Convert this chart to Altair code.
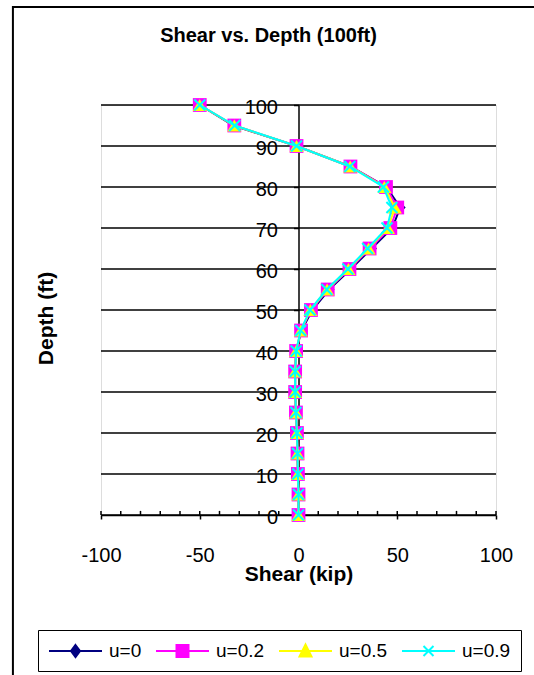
import altair as alt
import pandas as pd

# ---------------- data ----------------
depth = [0, 5, 10, 15, 20, 25, 30, 35, 40, 45, 50, 55, 60, 65, 70, 75, 80, 85, 90, 95, 100]
series_names = ["u=0", "u=0.2", "u=0.5", "u=0.9"]
shear_u0 = [0, 0, -0.3, -0.5, -0.8, -1.3, -1.7, -1.7, -1.2, 1.5, 7.0, 15.5, 26.5, 37.0, 47.5, 51.5, 44.5, 26.3, -1.0, -33.0, -50.0]
shear_u02 = [0, 0, -0.3, -0.5, -0.8, -1.3, -1.7, -1.7, -1.2, 1.3, 6.3, 14.8, 25.8, 36.0, 46.5, 50.0, 44.3, 26.3, -1.0, -32.5, -50.0]
shear_u05 = [0, 0, -0.3, -0.5, -0.8, -1.3, -1.7, -1.7, -1.2, 1.2, 6.0, 14.5, 25.3, 35.5, 45.3, 48.8, 43.5, 26.2, -1.0, -32.5, -50.0]
shear_u09 = [0, 0, -0.3, -0.5, -0.8, -1.3, -1.7, -1.7, -1.2, 1.1, 5.8, 14.3, 25.0, 35.0, 44.8, 47.3, 43.0, 26.0, -1.0, -32.3, -50.0]
x_major_ticks = [-100, -50, 0, 50, 100]
x_minor_ticks = [-100, -90, -80, -70, -60, -50, -40, -30, -20, -10, 0, 10, 20, 30, 40, 50, 60, 70, 80, 90, 100]
y_ticks = [0, 10, 20, 30, 40, 50, 60, 70, 80, 90, 100]
# chart-area border in data units (left/top edges; right/bottom fall off-canvas)
frame_x = [-144.6, 200.0]
frame_y = [123.9, -40.0]

colors = ["#000080", "#FF00FF", "#FFFF00", "#00FFFF"]

rows = []
for name, vals in zip(series_names, [shear_u0, shear_u02, shear_u05, shear_u09]):
    for d, v in zip(depth, vals):
        rows.append({"series": name, "depth": d, "shear": v})
df = pd.DataFrame(rows)

FONT = "Liberation Sans"
W, H = 395, 410

xscale = alt.Scale(domain=[-100, 100], nice=False, zero=False)
yscale = alt.Scale(domain=[0, 100], nice=False, zero=False)
# data-driven domain (sorted: u=0, u=0.2, u=0.5, u=0.9)
color_scale = alt.Scale(range=colors)

x_axis = alt.Axis(
    values=x_major_ticks, grid=False, domainColor="black", domainWidth=1.5,
    tickColor="black", tickSize=4, tickWidth=1.5,
    labelFont=FONT, labelFontSize=20, labelColor="black", labelPadding=36,
    labelBaseline="middle", labelFlush=False, labelOverlap=False,
    labelExpr="'' + datum.value",
    titleFont=FONT, titleFontSize=21, titleFontWeight="bold", titleColor="black",
    titleY=65, titleBaseline="alphabetic",
)
y_axis = alt.Axis(
    values=y_ticks, grid=False, offset=-W / 2, domainColor="black", domainWidth=1.5,
    tickColor="black", tickSize=5, tickWidth=1.5,
    labelFont=FONT, labelFontSize=20, labelColor="black", labelPadding=16,
    labelFlush=False, labelOverlap=False, labelOffset=2,
    titleFont=FONT, titleFontSize=21, titleFontWeight="bold", titleColor="black",
    titleAngle=270, titleX=-246, titleY=213, titleBaseline="alphabetic",
)

X = alt.X("shear:Q", scale=xscale, axis=x_axis, title="Shear (kip)")
Y = alt.Y("depth:Q", scale=yscale, axis=y_axis, title="Depth (ft)")

frame = alt.Chart(pd.DataFrame({"x": [frame_x[0]], "x2": [frame_x[1]], "y": [frame_y[0]], "y2": [frame_y[1]]})).mark_rect(
    fill="transparent", stroke="black", strokeWidth=2
).encode(
    x=alt.X("x:Q", scale=xscale, axis=x_axis, title="Shear (kip)"),
    x2="x2:Q",
    y=alt.Y("y:Q", scale=yscale, axis=y_axis, title="Depth (ft)"),
    y2="y2:Q",
)

grid = alt.Chart(pd.DataFrame({"g": y_ticks})).mark_rule(
    color="black", strokeWidth=1.5
).encode(
    y=alt.Y("g:Q", scale=yscale, axis=y_axis, title="Depth (ft)"),
    x=alt.XDatum(-100, scale=xscale, axis=x_axis, title="Shear (kip)"),
    x2=alt.X2Datum(100),
)

minor = alt.Chart(pd.DataFrame({"t": x_minor_ticks})).mark_rule(
    color="black", strokeWidth=1.5
).encode(
    x=alt.X("t:Q", scale=xscale, axis=x_axis, title="Shear (kip)"),
    y=alt.YDatum(0, scale=yscale, axis=y_axis, title="Depth (ft)"),
    y2=alt.Y2Datum(1),
)

base = alt.Chart(df).encode(
    x=X, y=Y, color=alt.Color("series:N", scale=color_scale, legend=None)
)

marker_specs = [
    dict(shape="diamond", size=120, filled=True),
    dict(shape="square", size=190, filled=True),
    dict(shape="triangle-up", size=200, filled=True),
    dict(shape="M-1,-1L1,1M-1,1L1,-1", size=121, filled=False, strokeWidth=2),
]

layers = [frame, grid, minor]
for name, spec in zip(series_names, marker_specs):
    sub = base.transform_filter(alt.datum.series == name)
    layers.append(sub.mark_line(strokeWidth=2).encode(order=alt.Order("depth:Q")))
    layers.append(sub.mark_point(opacity=1, **spec))

# legend symbols: a 53 px line with the series marker in its middle
# (symbol cell is 20 px; path units are 10 px, drawn from the cell's left edge)
legend_paths = [
    "M-1,0H4.3M1.65,-0.6L2.1,0L1.65,0.6L1.2,0Z",
    "M-1,0H4.3M1.05,-0.6H2.25V0.6H1.05Z",
    "M-1,0H4.3M1.65,-0.65L2.25,0.55H1.05Z",
    "M-1,0H4.3M1.15,-0.5L2.15,0.5M1.15,0.5L2.15,-0.5",
]

leg = alt.Legend(
    title=None, orient="none", legendX=-63, legendY=525, direction="horizontal",
    columns=4, gridAlign="each", symbolSize=400, symbolStrokeWidth=2, symbolOpacity=1,
    labelFont=FONT, labelFontSize=19, labelColor="black", labelOffset=39,
    columnPadding=10, padding=10, strokeColor="black", fillColor="white",
)

# layer that only carries the legend (series colour + line/marker symbol)
legend_layer = alt.Chart(df).mark_point(filled=True, opacity=0).encode(
    x=X, y=Y,
    fill=alt.Fill("series:N", scale=alt.Scale(domain=series_names, range=colors), legend=leg),
    stroke=alt.Stroke("series:N", scale=alt.Scale(domain=series_names, range=colors), legend=leg),
    shape=alt.Shape("series:N", scale=alt.Scale(domain=series_names, range=legend_paths), legend=leg),
)
layers.append(legend_layer)

chart = alt.layer(*layers).properties(
    width=W, height=H,
    autosize=alt.AutoSizeParams(type="none"),
    padding={"left": 101, "top": 105, "right": 38, "bottom": 160},
    title=alt.TitleParams(
        "Shear vs. Depth (100ft)", font=FONT, fontSize=20, fontWeight="bold",
        color="black", anchor="middle", dx=-30, offset=0, dy=40,
    ),
).configure_view(stroke=None).configure(background="white")

chart.save("out.html", embed_options={"renderer": "svg", "actions": False})
